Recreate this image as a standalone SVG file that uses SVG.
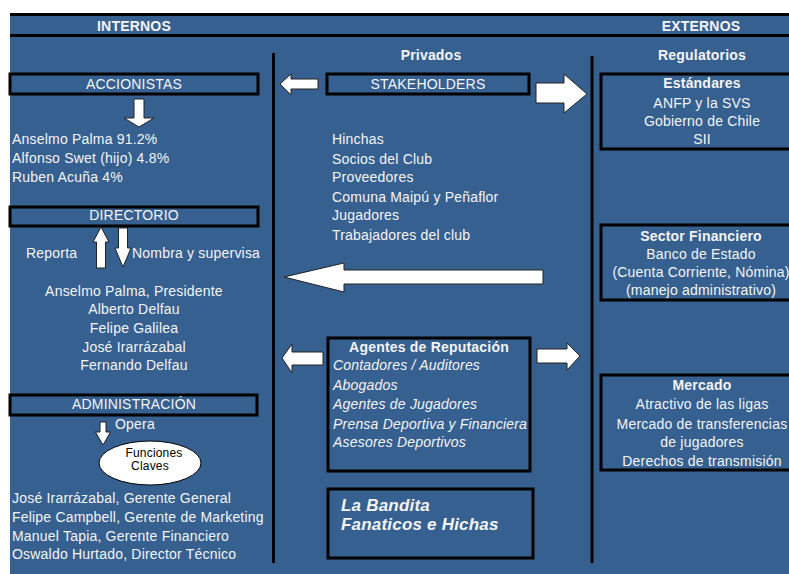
<svg xmlns="http://www.w3.org/2000/svg" width="789" height="574" viewBox="0 0 789 574">
<style>
text{font-family:"Liberation Sans",Arial,sans-serif;font-size:14px;fill:#f4f4f4;letter-spacing:0.2px}
.b{font-weight:bold}
.i{font-style:italic}
.c{text-anchor:middle}
.box{fill:none;stroke:#000;stroke-width:3}
.ln{stroke:#000;stroke-width:3;fill:none}
.arr{fill:#fff;stroke:#222;stroke-width:1}
</style>
<rect x="10" y="13" width="779" height="561" fill="#36608f"/>
<g id="header">
<line class="ln" x1="10" y1="14.5" x2="789" y2="14.5"/>
<line class="ln" x1="10" y1="35.5" x2="789" y2="35.5"/>
<text class="b c" x="134" y="31">INTERNOS</text>
<text class="b c" x="701" y="31">EXTERNOS</text>
<text class="b c" x="431" y="60">Privados</text>
<text class="b c" x="702" y="60">Regulatorios</text>
</g>
<g id="dividers">
<line class="ln" x1="273.5" y1="53" x2="273.5" y2="563"/>
<line class="ln" x1="592" y1="56" x2="592" y2="563"/>
</g>
<g id="accionistas">
<rect class="box" x="10" y="74" width="248" height="20"/>
<text class="c" x="134" y="89">ACCIONISTAS</text>
<text x="12" y="144">Anselmo Palma 91.2%</text>
<text x="12" y="163">Alfonso Swet (hijo) 4.8%</text>
<text x="12" y="182">Ruben Acuña 4%</text>
</g>
<g id="directorio">
<rect class="box" x="10" y="207" width="248" height="19"/>
<text class="c" x="134" y="220">DIRECTORIO</text>
<text x="26" y="258">Reporta</text>
<text x="132" y="258">Nombra y supervisa</text>
<text class="c" x="134" y="296">Anselmo Palma, Presidente</text>
<text class="c" x="134" y="314">Alberto Delfau</text>
<text class="c" x="134" y="333">Felipe Galilea</text>
<text class="c" x="134" y="352">José Irarrázabal</text>
<text class="c" x="134" y="370">Fernando Delfau</text>
</g>
<g id="administracion">
<rect class="box" x="10" y="395" width="247" height="20"/>
<text class="c" x="134" y="409">ADMINISTRACIÓN</text>
<text x="115" y="429">Opera</text>
<text x="12" y="503">José Irarrázabal, Gerente General</text>
<text x="12" y="522">Felipe Campbell, Gerente de Marketing</text>
<text x="12" y="541">Manuel Tapia, Gerente Financiero</text>
<text x="12" y="559">Oswaldo Hurtado, Director Técnico</text>
</g>
<g id="funciones">
<ellipse cx="150" cy="463" rx="51" ry="22" fill="#fff" stroke="#000" stroke-width="1"/>
<text class="c" x="154" y="457" style="font-size:12px;fill:#000">Funciones</text>
<text class="c" x="150" y="470" style="font-size:12px;fill:#000">Claves</text>
</g>
<g id="stakeholders">
<rect class="box" x="327" y="74" width="202" height="20"/>
<text class="c" x="428" y="89">STAKEHOLDERS</text>
<text x="332" y="144">Hinchas</text>
<text x="332" y="164">Socios del Club</text>
<text x="332" y="182">Proveedores</text>
<text x="332" y="202">Comuna Maipú y Peñaflor</text>
<text x="332" y="220">Jugadores</text>
<text x="332" y="240">Trabajadores del club</text>
</g>
<g id="agentes">
<rect class="box" x="328" y="338" width="202" height="133"/>
<text class="b c" x="429" y="352">Agentes de Reputación</text>
<text class="i" x="333" y="370">Contadores / Auditores</text>
<text class="i" x="333" y="390">Abogados</text>
<text class="i" x="333" y="409">Agentes de Jugadores</text>
<text class="i" x="333" y="429">Prensa Deportiva y Financiera</text>
<text class="i" x="333" y="447">Asesores Deportivos</text>
</g>
<g id="bandita">
<rect class="box" x="328" y="489" width="205" height="69"/>
<text class="b i" x="341" y="511" style="font-size:17px">La Bandita</text>
<text class="b i" x="341" y="530" style="font-size:17px">Fanaticos e Hichas</text>
</g>
<g id="estandares">
<rect class="box" x="601" y="74" width="200" height="75"/>
<text class="b c" x="702" y="88">Estándares</text>
<text class="c" x="702" y="108">ANFP y la SVS</text>
<text class="c" x="702" y="126">Gobierno de Chile</text>
<text class="c" x="702" y="144">SII</text>
</g>
<g id="financiero">
<rect class="box" x="601" y="225" width="200" height="75"/>
<text class="b c" x="701" y="241">Sector Financiero</text>
<text class="c" x="701" y="259">Banco de Estado</text>
<text class="c" x="701" y="277">(Cuenta Corriente, Nómina)</text>
<text class="c" x="701" y="295">(manejo administrativo)</text>
</g>
<g id="mercado">
<rect class="box" x="601" y="375" width="200" height="95"/>
<text class="b c" x="702" y="390">Mercado</text>
<text class="c" x="702" y="409">Atractivo de las ligas</text>
<text class="c" x="702" y="429">Mercado de transferencias</text>
<text class="c" x="702" y="447">de jugadores</text>
<text class="c" x="702" y="466">Derechos de transmisión</text>
</g>
<g id="connectors">
<polygon class="arr" points="280,84 291,74 291,79 318,79 318,89 291,89 291,95"/>
<polygon class="arr" points="536,83 564,83 564,74 587,94 564,113 564,103 536,103"/>
<polygon class="arr" points="134,99 144,99 144,118 154,118 139,127 124,118 134,118"/>
<polygon class="arr" points="101,227 109,242 105.5,242 105.5,268 96.5,268 96.5,242 93,242"/>
<polygon class="arr" points="118.5,228 127.5,228 127.5,248 131,248 123,267 115,248 118.5,248"/>
<polygon class="arr" points="100,422 106,422 106,432 110.5,432 103,445 95.5,432 100,432"/>
<polygon class="arr" points="284,277 344,263 344,270 543,270 543,284 344,284 344,292"/>
<polygon class="arr" points="282,358 292,344 292,352 323,352 323,365 292,365 292,373"/>
<polygon class="arr" points="537,349 567,349 567,343 580,356 567,370 567,363 537,363"/>
</g>
</svg>
